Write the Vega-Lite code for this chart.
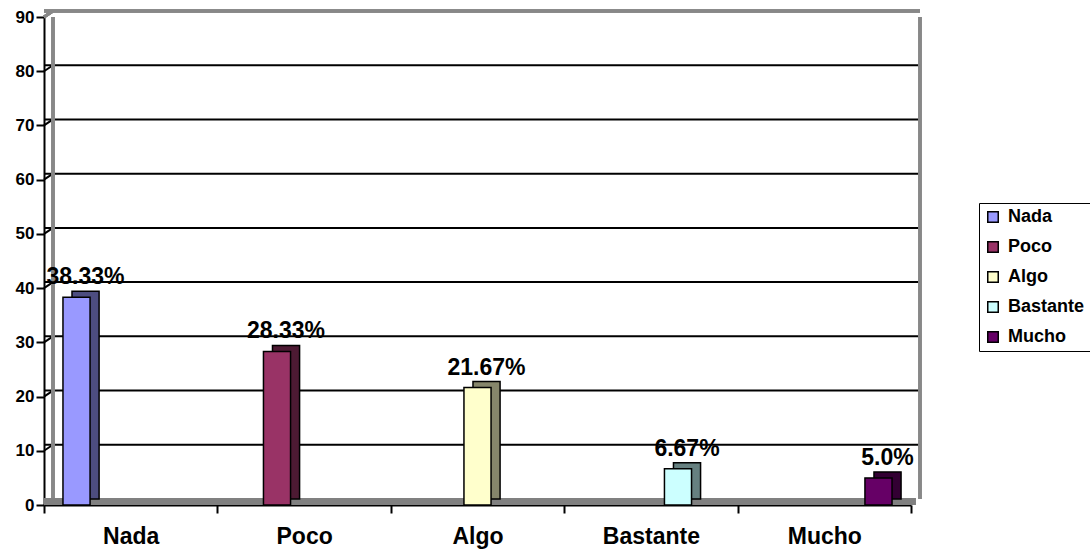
{
  "$schema": "https://vega.github.io/schema/vega-lite/v6.json",
  "width": 867,
  "height": 488,
  "autosize": {"type": "none"},
  "padding": {"left": 44, "top": 17, "right": 179, "bottom": 44},
  "background": "white",
  "config": {
    "view": {"stroke": null},
    "font": "Liberation Sans",
    "axis": {"labelFont": "Liberation Sans", "labelFontWeight": "bold", "labelColor": "black", "domainColor": "black", "domainWidth": 2, "tickColor": "black", "tickWidth": 2, "tickSize": 8, "grid": false, "zindex": 1, "title": null}
  },
  "datasets": {
    "resp": [
      {"cat": "Nada", "value": 38.33, "label": "38.33%"},
      {"cat": "Poco", "value": 28.33, "label": "28.33%"},
      {"cat": "Algo", "value": 21.67, "label": "21.67%"},
      {"cat": "Bastante", "value": 6.67, "label": "6.67%"},
      {"cat": "Mucho", "value": 5.0, "label": "5.0%"}
    ],
    "grid": [{"g": 10}, {"g": 20}, {"g": 30}, {"g": 40}, {"g": 50}, {"g": 60}, {"g": 70}, {"g": 80}]
  },
  "data": {"name": "resp"},
  "resolve": {"scale": {"xOffset": "independent", "color": "independent"}, "legend": {"color": "independent"}},
  "layer": [
    {
      "data": {"name": "grid"},
      "mark": {"type": "rule", "xOffset": 9, "yOffset": -6, "strokeWidth": 2, "color": "black"},
      "encoding": {
        "y": {"field": "g", "type": "quantitative", "scale": {"domain": [0, 90], "nice": false}}
      }
    },
    {
      "data": {"name": "grid"},
      "mark": {"type": "point", "shape": "M-1,0.667L1,-0.667", "size": 81, "filled": false, "stroke": "black", "strokeWidth": 2, "opacity": 1, "xOffset": 4.5, "yOffset": -3},
      "encoding": {
        "x": {"datum": "Nada", "type": "nominal", "bandPosition": 0},
        "y": {"field": "g", "type": "quantitative"}
      }
    },
    {
      "mark": {"type": "point", "shape": "M-1,0.667L1,-0.667", "size": 81, "filled": false, "stroke": "#888888", "strokeWidth": 3, "opacity": 1, "xOffset": 4.5, "yOffset": -3},
      "encoding": {
        "x": {"datum": "Nada", "type": "nominal", "bandPosition": 0},
        "y": {"datum": 90, "type": "quantitative"}
      }
    },
    {
      "mark": {"type": "rule", "xOffset": 9, "yOffset": -6, "strokeWidth": 3, "color": "#888888"},
      "encoding": {"y": {"datum": 90, "type": "quantitative"}}
    },
    {
      "mark": {"type": "rule", "xOffset": 9, "yOffset": -6, "strokeWidth": 3, "color": "#888888"},
      "encoding": {
        "x": {"datum": "Nada", "type": "nominal", "bandPosition": 0},
        "y": {"datum": 0, "type": "quantitative"},
        "y2": {"datum": 90}
      }
    },
    {
      "mark": {"type": "rule", "xOffset": 9, "yOffset": -6, "strokeWidth": 3, "color": "#888888"},
      "encoding": {
        "x": {"datum": "Mucho", "type": "nominal", "bandPosition": 1},
        "y": {"datum": 0, "type": "quantitative"},
        "y2": {"datum": 90}
      }
    },
    {
      "mark": {"type": "rule", "xOffset": 4.5, "yOffset": -3.5, "strokeWidth": 7, "color": "#808080"},
      "encoding": {"y": {"datum": 0, "type": "quantitative"}}
    },
    {
      "mark": {"type": "bar", "yOffset": -6, "stroke": "black", "strokeWidth": 1.5},
      "encoding": {
        "x": {"field": "cat", "type": "nominal", "sort": null,
              "scale": {"domain": ["Nada", "Poco", "Algo", "Bastante", "Mucho"], "paddingInner": 0, "paddingOuter": 0},
              "axis": {"labelFontSize": 23, "labelAngle": 0, "labelAlign": "center", "labelBaseline": "top", "labelPadding": 12, "tickBand": "extent"}},
        "xOffset": {"field": "cat", "type": "nominal", "sort": null,
                    "scale": {"domain": ["Nada", "Poco", "Algo", "Bastante", "Mucho"], "paddingInner": 0, "paddingOuter": 0.7, "align": 0.738}},
        "y": {"field": "value", "type": "quantitative",
              "scale": {"domain": [0, 90], "nice": false},
              "axis": {"values": [0, 10, 20, 30, 40, 50, 60, 70, 80, 90], "labelFontSize": 17, "labelPadding": 2}},
        "color": {"field": "cat", "type": "nominal", "sort": null, "legend": null,
                  "scale": {"domain": ["Nada", "Poco", "Algo", "Bastante", "Mucho"],
                            "range": ["#4D4D80", "#4D1A33", "#86866B", "#668080", "#330033"]}}
      }
    },
    {
      "mark": {"type": "bar", "stroke": "black", "strokeWidth": 1.5},
      "encoding": {
        "x": {"field": "cat", "type": "nominal", "sort": null},
        "xOffset": {"field": "cat", "type": "nominal", "sort": null,
                    "scale": {"domain": ["Nada", "Poco", "Algo", "Bastante", "Mucho"], "paddingInner": 0, "paddingOuter": 0.7}},
        "y": {"field": "value", "type": "quantitative"},
        "color": {"field": "cat", "type": "nominal", "sort": null,
                  "scale": {"domain": ["Nada", "Poco", "Algo", "Bastante", "Mucho"],
                            "range": ["#9999FF", "#993366", "#FFFFCC", "#CCFFFF", "#660066"]},
                  "legend": {"title": null, "orient": "none", "legendX": 935, "legendY": 186,
                             "symbolType": "square", "symbolSize": 110, "symbolStrokeColor": "black", "symbolStrokeWidth": 1.5, "symbolOpacity": 1,
                             "labelFont": "Liberation Sans", "labelFontSize": 18, "labelFontWeight": "bold", "labelColor": "black",
                             "labelOffset": 6, "rowPadding": 12, "padding": 5, "strokeColor": "black", "fillColor": "white"}}
      }
    },
    {
      "mark": {"type": "text", "fontSize": 23, "fontWeight": "bold", "color": "black", "baseline": "alphabetic", "dy": -13, "dx": 9},
      "encoding": {
        "x": {"field": "cat", "type": "nominal", "sort": null},
        "xOffset": {"field": "cat", "type": "nominal", "sort": null,
                    "scale": {"type": "band", "domain": ["Nada", "Poco", "Algo", "Bastante", "Mucho"], "paddingInner": 0, "paddingOuter": 0.7}},
        "y": {"field": "value", "type": "quantitative"},
        "text": {"field": "label"}
      }
    }
  ]
}
